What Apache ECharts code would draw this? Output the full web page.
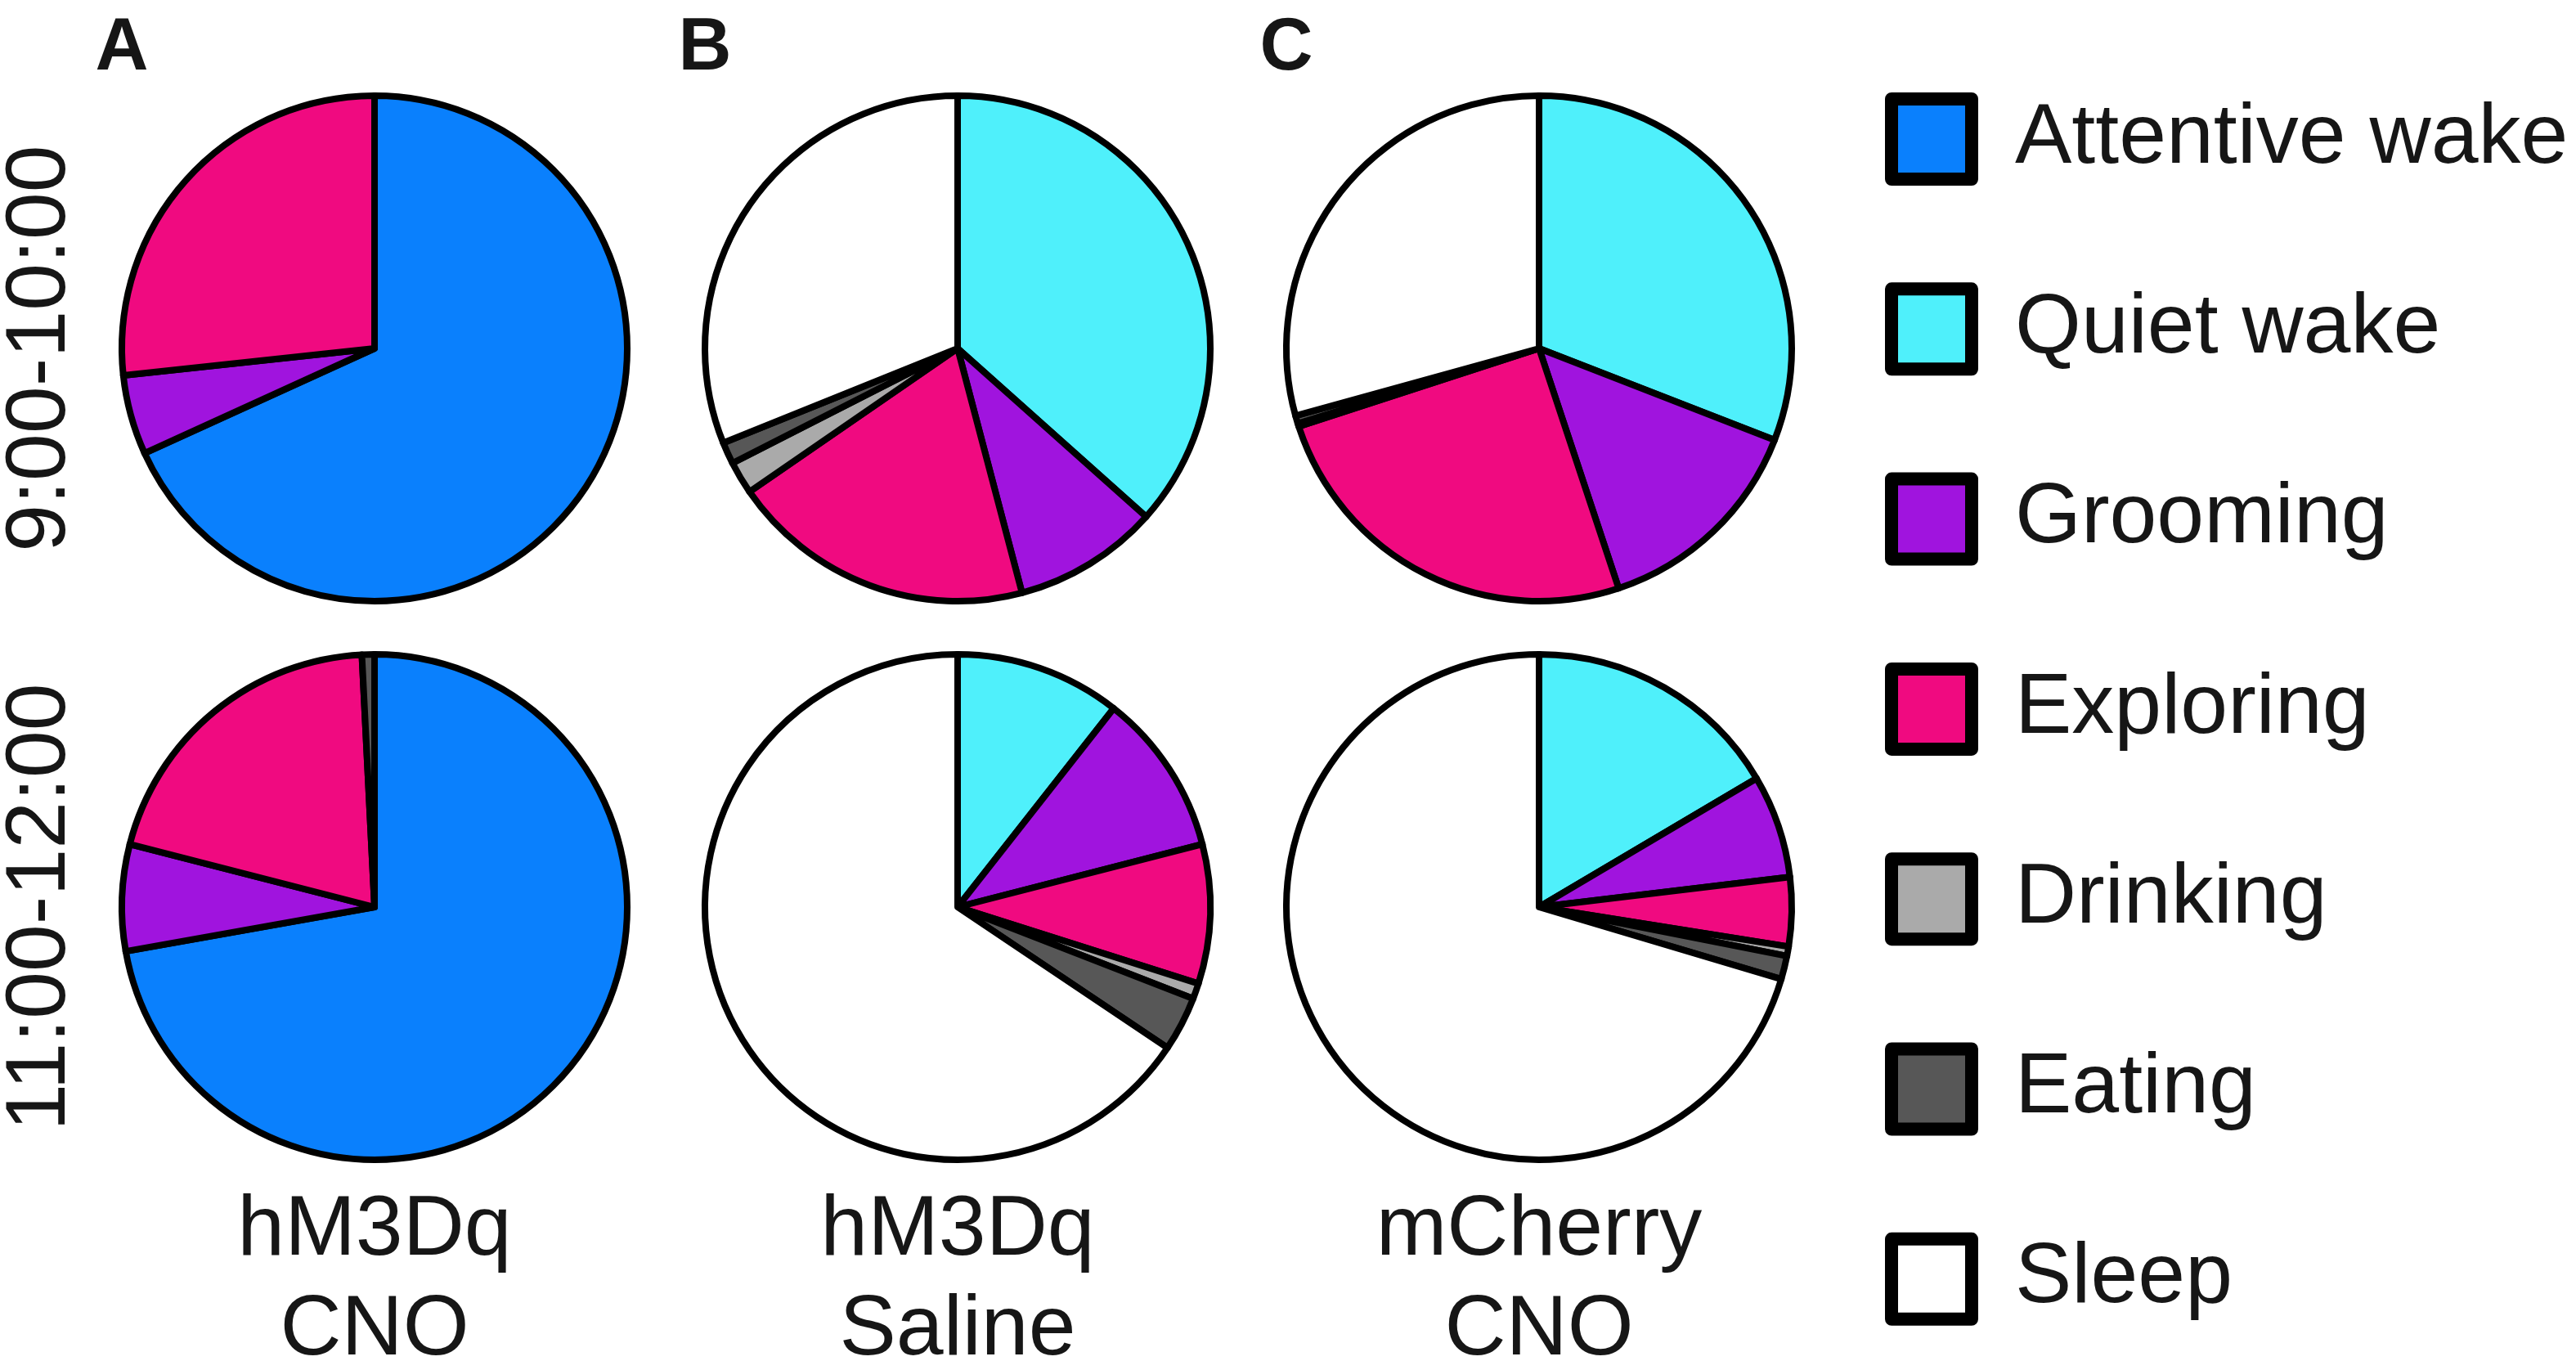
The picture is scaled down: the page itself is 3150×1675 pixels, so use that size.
<!DOCTYPE html>
<html>
<head>
<meta charset="utf-8">
<title>Behaviour pies</title>
<script src="https://cdn.jsdelivr.net/npm/echarts@6/dist/echarts.min.js"></script>
<style>
  html, body { margin:0; padding:0; background:#fff; }
  #main { width:3150px; height:1675px; }
</style>
</head>
<body>
<div id="main"></div>
<script>
// behaviour categories, same order as legend (pie goes clockwise from 12 o'clock)
var categories = ['Attentive wake', 'Quiet wake', 'Grooming', 'Exploring', 'Drinking', 'Eating', 'Sleep'];
var colors = ['#0a80fd', '#4ff0fb', '#a014de', '#f00a80', '#aaaaaa', '#575757', '#ffffff'];

// % of time per behaviour (order = categories)
var hm3dqCno_9to10     = [68.2, 0, 5.1, 26.7, 0, 0, 0];
var hm3dqCno_11to12    = [72.2, 0, 6.8, 20.2, 0, 0.8, 0];
var hm3dqSaline_9to10  = [0, 36.6, 9.3, 19.5, 2.1, 1.4, 31.1];
var hm3dqSaline_11to12 = [0, 10.6, 10.4, 8.9, 1.0, 3.5, 65.6];
var mcherryCno_9to10   = [0, 30.9, 14.0, 25.1, 0.2, 0.5, 29.3];
var mcherryCno_11to12  = [0, 16.5, 6.6, 4.4, 0.6, 1.5, 70.4];

var panelLetters = ['A', 'B', 'C'];
var groupLine1 = ['hM3Dq', 'hM3Dq', 'mCherry'];
var groupLine2 = ['CNO', 'Saline', 'CNO'];
var rowLabels = ['9:00-10:00', '11:00-12:00'];

var rows = [
  [hm3dqCno_9to10, hm3dqSaline_9to10, mcherryCno_9to10],
  [hm3dqCno_11to12, hm3dqSaline_11to12, mcherryCno_11to12]
];

var colX = [458, 1171, 1882];
var rowY = [426, 1109];
var FONT = '"Liberation Sans", Arial, sans-serif';

function pieData(values){
  var out = [];
  for (var i = 0; i < values.length; i++) {
    if (values[i] <= 0) continue;   // empty slices would only draw a stray border line
    out.push({ name: categories[i], value: values[i], itemStyle: { color: colors[i] } });
  }
  return out;
}

function txt(x, y, text, size, weight, rot){
  return {
    type: 'text', x: x, y: y, rotation: rot || 0, silent: true,
    style: {
      text: text, fontSize: size, fontWeight: weight || 'normal', fontFamily: FONT,
      fill: '#161616', align: 'center', verticalAlign: 'middle',
      textAlign: 'center', textVerticalAlign: 'middle'
    }
  };
}

var series = [];
for (var r = 0; r < rows.length; r++) {
  for (var c = 0; c < rows[r].length; c++) {
    series.push({
      type: 'pie',
      center: [colX[c], rowY[r]],
      radius: 309,
      startAngle: 90,
      clockwise: true,
      silent: true,
      label: { show: false },
      labelLine: { show: false },
      itemStyle: { borderColor: '#000', borderWidth: 8 },
      data: pieData(rows[r][c])
    });
  }
}

// one legend box per behaviour so the rows sit exactly where they should
var legends = [];
for (var i = 0; i < categories.length; i++) {
  legends.push({
    data: [categories[i]],
    orient: 'vertical',
    left: 2300,
    top: 108 + i * 232.3,
    selectedMode: false,
    itemWidth: 98,
    itemHeight: 98,
    itemStyle: { borderColor: '#000', borderWidth: 16 },
    icon: 'rect',
    textStyle: { fontSize: 104, fontFamily: FONT, color: '#161616', padding: [0, 0, 0, 48], lineHeight: 110 }
  });
}

var graphics = [];
for (var c = 0; c < 3; c++) {
  graphics.push(txt(colX[c] - 309, 60, panelLetters[c], 90, 'bold'));
  graphics.push(txt(colX[c], 1505, groupLine1[c], 104));
  graphics.push(txt(colX[c], 1627, groupLine2[c], 104));
}
for (var r = 0; r < rowLabels.length; r++) {
  graphics.push(txt(50, rowY[r], rowLabels[r], 104, 'normal', Math.PI / 2));
}

var myChart = echarts.init(document.getElementById('main'));
myChart.setOption({
  animation: false,
  backgroundColor: '#fff',
  legend: legends,
  graphic: graphics,
  series: series
});
</script>
</body>
</html>
